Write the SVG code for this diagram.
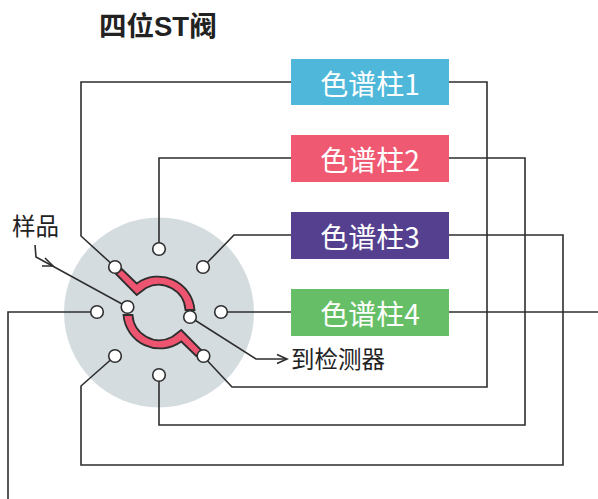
<svg xmlns="http://www.w3.org/2000/svg" width="598" height="499" viewBox="0 0 598 499">
<style>
.w{fill:none;stroke:#2e2e2e;stroke-width:1.6}
.p{fill:#fff;stroke:#2e2e2e;stroke-width:1.6}
.b{font:28px "Noto Sans CJK SC","Liberation Sans",sans-serif;fill:#fff;text-anchor:middle}
.t{font:23.5px "Noto Sans CJK SC","Liberation Sans",sans-serif;fill:#222}
.r{fill:#ec5470;stroke:#2e2e2e;stroke-width:1.8}
</style>
<defs><marker id="a" markerUnits="userSpaceOnUse" markerWidth="14" markerHeight="14" refX="12" refY="7" orient="auto"><path d="M2,2.5 L12,7 L2,11.5" fill="none" stroke="#2e2e2e" stroke-width="1.6"/></marker></defs>
<rect width="598" height="499" fill="#fff"/>
<text x="99" y="36" style="font:bold 27.5px 'Liberation Sans','Noto Sans CJK SC',sans-serif;fill:#222">四位ST阀</text>
<circle id="valve" cx="159" cy="312.5" r="95" fill="#d5dce0"/>
<g id="connectors">
<path class="w" d="M291,82H81V236L115,267"/>
<path class="w" d="M449,82H487V387H232L203,356"/>
<path class="w" d="M291,158H159V249"/>
<path class="w" d="M449,158H525V425H159V375"/>
<path class="w" d="M291,235H234L203,267"/>
<path class="w" d="M449,235H563V465H81V386L115,356"/>
<path class="w" d="M221,312H291"/>
<path class="w" d="M449,312H598"/>
<path class="w" d="M97,312H8V499"/>
<path class="w" d="M35,245L36,257L127.5,307"/>
<path class="w" d="M45,258L53,266L42,266"/>
<path class="w" d="M190,317L256,359H287" marker-end="url(#a)"/>
</g>
<g id="channels">
<path class="r" d="M121.7,269L136.7,283.5A36.5,36.5 0 0 1 194.5,310H185.5A27,27 0 0 0 146,288L136.7,295L116,274Z"/>
<path class="r" d="M196.3,356L181.3,341.5A36.5,36.5 0 0 1 123.5,315H132.5A27,27 0 0 0 172,337L181.3,330L202,351Z"/>
</g>
<g id="port-top"><circle class="p" cx="159" cy="249" r="6.3"/></g>
<g id="port-ul"><circle class="p" cx="115" cy="267" r="6.3"/></g>
<g id="port-ur"><circle class="p" cx="203" cy="267" r="6.3"/></g>
<g id="port-l"><circle class="p" cx="97" cy="312" r="6.3"/></g>
<g id="port-r"><circle class="p" cx="221" cy="312" r="6.3"/></g>
<g id="port-il"><circle class="p" cx="127.5" cy="307" r="6.3"/></g>
<g id="port-ir"><circle class="p" cx="190" cy="317" r="6.3"/></g>
<g id="port-ll"><circle class="p" cx="115" cy="356" r="6.3"/></g>
<g id="port-b"><circle class="p" cx="159" cy="375" r="6.3"/></g>
<g id="port-lr"><circle class="p" cx="203.5" cy="356" r="6.3"/></g>
<g id="col1"><rect x="291" y="59" width="158" height="46" fill="#4fb8da"/><text class="b" x="370" y="95">色谱柱1</text></g>
<g id="col2"><rect x="291" y="135" width="158" height="47" fill="#ef5a72"/><text class="b" x="370" y="171">色谱柱2</text></g>
<g id="col3"><rect x="291" y="212" width="158" height="47" fill="#54408f"/><text class="b" x="370" y="248">色谱柱3</text></g>
<g id="col4"><rect x="291" y="289" width="158" height="47" fill="#66bf66"/><text class="b" x="370" y="325">色谱柱4</text></g>
<g id="label-sample"><text class="t" x="12" y="235">样品</text></g>
<g id="label-detector"><text class="t" x="291" y="368">到检测器</text></g>
</svg>
